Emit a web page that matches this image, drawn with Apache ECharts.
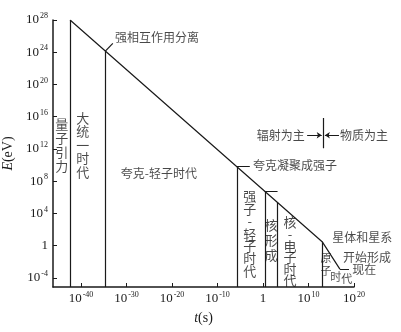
<!DOCTYPE html>
<html>
<head>
<meta charset="utf-8">
<script src="https://cdn.jsdelivr.net/npm/echarts@6/dist/echarts.min.js"></script>
<style>
  html, body { margin: 0; padding: 0; background: #fff; }
  #chart { width: 401px; height: 332px; }
</style>
</head>
<body>
<div id="chart"></div>
<script>
// Exponents (log10) of the tick marks on each axis
const timeTicks = [-40, -30, -20, -10, 0, 10, 20];
const energyTicks = [-4, 0, 4, 8, 12, 16, 20, 24, 28];

// Cooling curve of the universe: log10 t (s), log10 E (eV)
const curveT = [-42.4, 13.0, 16.9];
const curveE = [28.0, 0.5, -2.9];

// Era boundaries: log10 t and the energy where each boundary meets the curve
const boundaryT = [-42.4, -34.7, -5.7, 0.4, 3.1, 13.0];
const boundaryE = [28.0, 24.1, 9.8, 6.8, 5.4, 0.5];

// Short horizontal markers at quark condensation, nucleosynthesis and today
const markerStartT = [-5.7, 0.4, 16.9];
const markerEndT = [-2.9, 3.2, 18.9];
const markerE = [9.8, 6.8, -2.9];

// Radiation / matter domination divide
const divideT = 13.2;
const divideE = [12.1, 15.85];
const arrowE = 13.7;
const arrowFromT = [9.7, 16.7];
const arrowToT = [12.9, 13.6];

// Era names and event labels, anchored in (log10 t, log10 E)
const vertLabels = [
  { text: '量子引力', t: -44.2, e: 12.5, lh: 14 },
  { text: '大统一时代', t: -39.6, e: 12.5, lh: 13.5 },
  { text: '强子-轻子时代', t: -2.9, e: 1.5, lh: 12.4 },
  { text: '核形成', t: 1.76, e: 0.72, lh: 15 },
  { text: '核-电子时代', t: 5.93, e: -0.7, lh: 11.6 }
];
const atomLabels = [
  { text: '原', t: 13.85, e: -1.5 },
  { text: '子', t: 13.85, e: -3.1 },
  { text: '时', t: 16.0, e: -3.9 },
  { text: '代', t: 18.4, e: -4.1 }
];
const sideLabels = [
  { text: '夸克-轻子时代', t: -22.9, e: 9.0, align: 'center' },
  { text: '强相互作用分离', t: -32.5, e: 25.8, align: 'left' },
  { text: '夸克凝聚成强子', t: -2.2, e: 9.9, align: 'left' },
  { text: '辐射为主', t: 9.2, e: 13.7, align: 'right' },
  { text: '物质为主', t: 16.9, e: 13.7, align: 'left' },
  { text: '星体和星系', t: 15.2, e: 1.0, align: 'left' },
  { text: '开始形成', t: 17.6, e: -1.4, align: 'left' },
  { text: '现在', t: 19.6, e: -2.9, align: 'left' }
];

const tMin = -46.15, tMax = 20;
const eMin = -5.12, eMax = 28;

const cjk = '"Noto Sans CJK SC", sans-serif';
const serif = '"Liberation Serif", "DejaVu Serif", serif';
const ink = '#1a1a1a';

function powerLabel(v) {
  if (v === 0) return '{b|1}';
  return '{b|10}{s|' + (v < 0 ? '-' + (-v) : v) + '}';
}
const powerRich = {
  b: { fontFamily: serif, fontSize: 13, color: ink, lineHeight: 16 },
  s: { fontFamily: serif, fontSize: 8, color: ink, lineHeight: 16, verticalAlign: 'top', padding: [0, 0, 0, 1] }
};

const boundaryData = boundaryT.map((t, i) => ({ coords: [[t, boundaryE[i]], [t, eMin]] }));
const markerData = markerStartT.map((t, i) => ({ coords: [[t, markerE[i]], [markerEndT[i], markerE[i]]] }));
const divideData = [{ coords: [[divideT, divideE[0]], [divideT, divideE[1]]] }];
const arrowData = arrowFromT.map((t, i) => ({ coords: [[t, arrowE], [arrowToT[i], arrowE]] }));

const textSeries = (items, labelFn) => ({
  type: 'scatter',
  symbolSize: 0,
  silent: true,
  clip: false,
  z: 5,
  data: items.map(it => ({ value: [it.t, it.e], label: labelFn(it) })),
  label: { show: true, position: 'inside', color: ink, fontFamily: cjk }
});

const chart = echarts.init(document.getElementById('chart'), null, { renderer: 'canvas' });
chart.setOption({
  animation: false,
  backgroundColor: '#fff',
  grid: { left: 53, right: 47, top: 20, bottom: 45, containLabel: false, outerBoundsMode: 'none' },
  xAxis: {
    type: 'value', min: tMin, max: tMax,
    name: '{i|t}(s)', nameLocation: 'middle', nameGap: 24,
    nameTextStyle: { fontFamily: serif, fontSize: 14, color: ink,
      rich: { i: { fontFamily: serif, fontStyle: 'italic', fontSize: 14, color: ink } } },
    axisLine: { onZero: false, lineStyle: { color: ink, width: 1.5 } },
    axisTick: { inside: true, length: 4, lineStyle: { color: ink }, customValues: timeTicks },
    axisLabel: { customValues: timeTicks, formatter: powerLabel, rich: powerRich, margin: 4 },
    splitLine: { show: false }
  },
  yAxis: {
    type: 'value', min: eMin, max: eMax,
    name: '{i|E}(eV)', nameLocation: 'middle', nameGap: 36, nameRotate: 90,
    nameTextStyle: { fontFamily: serif, fontSize: 14, color: ink,
      rich: { i: { fontFamily: serif, fontStyle: 'italic', fontSize: 14, color: ink } } },
    axisLine: { onZero: false, lineStyle: { color: ink, width: 1.5 } },
    axisTick: { inside: true, length: 4, lineStyle: { color: ink }, customValues: energyTicks },
    axisLabel: { customValues: energyTicks, formatter: powerLabel, rich: powerRich, margin: 5 },
    splitLine: { show: false }
  },
  series: [
    {
      type: 'line',
      data: curveT.map((t, i) => [t, curveE[i]]),
      symbol: 'none',
      lineStyle: { color: ink, width: 1.2 },
      z: 3
    },
    {
      type: 'lines', coordinateSystem: 'cartesian2d',
      data: boundaryData,
      lineStyle: { color: ink, width: 1.2, opacity: 1 }
    },
    {
      type: 'lines', coordinateSystem: 'cartesian2d',
      data: markerData.concat(divideData),
      lineStyle: { color: ink, width: 1.2, opacity: 1 }
    },
    {
      type: 'lines', coordinateSystem: 'cartesian2d',
      data: arrowData,
      symbol: ['none', 'arrow'], symbolSize: 5,
      lineStyle: { color: ink, width: 1.2, opacity: 1 }
    },
    {
      // leader from the curve to the strong-interaction label
      type: 'lines', coordinateSystem: 'cartesian2d',
      data: [{ coords: [[-34.7, 24.1], [-33.0, 25.1]] }],
      lineStyle: { color: ink, width: 1.2, opacity: 1 }
    },
    textSeries(vertLabels, it => ({
      formatter: it.text.split('').join('\n'),
      fontSize: 13, lineHeight: it.lh, align: 'center', verticalAlign: 'middle'
    })),
    textSeries(atomLabels, it => ({
      formatter: it.text, fontSize: 11, align: 'center', verticalAlign: 'middle'
    })),
    textSeries(sideLabels, it => ({
      formatter: it.text, fontSize: 12, align: it.align, verticalAlign: 'middle'
    }))
  ]
});
</script>
</body>
</html>
